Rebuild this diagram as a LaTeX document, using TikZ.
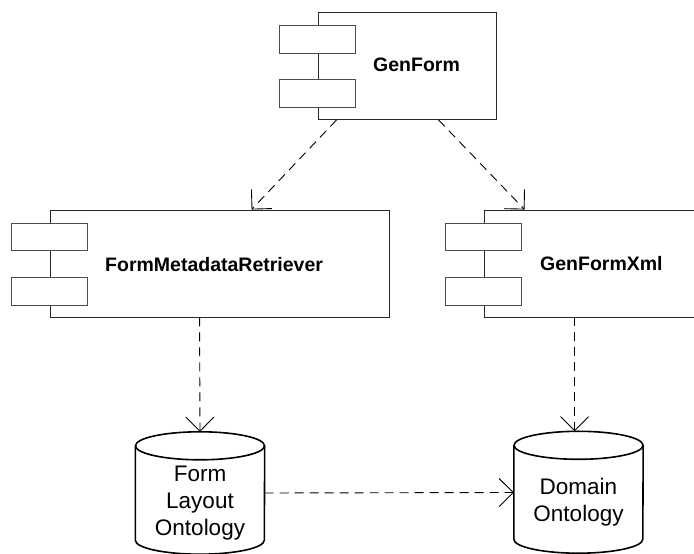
\documentclass[tikz,border=0pt]{standalone}
\usepackage{fontspec}
\setmainfont{Liberation Sans}
\usetikzlibrary{arrows.meta,calc}

\tikzset{
  body/.style={draw=black!85, line width=0.9pt, fill=white, inner sep=0pt,
               minimum width=#1, minimum height=107pt},
  port/.style={draw=black!70, line width=0.9pt, fill=white, inner sep=0pt,
               minimum width=76pt, minimum height=27.5pt},
  complbl/.style={font=\fontsize{19.5}{23}\selectfont\bfseries, inner sep=0pt},
  store/.style={inner sep=0pt, minimum width=129pt, minimum height=122pt},
  drum/.style={draw=black, line width=1.6pt},
  storelbl/.style={font=\fontsize{22.5}{27}\selectfont, align=center, inner sep=0pt},
  dep/.style={draw=black, line width=0.9pt, dash pattern=on 9pt off 6pt,
              -{Straight Barb[length=14pt,width=28pt]}}
}

\begin{document}
\begin{tikzpicture}[x=1pt,y=1pt]
\useasboundingbox (0,0) rectangle (694,554);
\clip (0,0) rectangle (694,554);

% GenForm component
\node[body=178pt] (genform) at (407,488) {};
\node[port] (genformp1) at (genform.west |- 0,514.5) {};
\node[port] (genformp2) at (genform.west |- 0,460.5) {};
\node[complbl, anchor=base west] (genformtxt) at (373,482) {GenForm};

% FormMetadataRetriever component
\node[body=339pt] (fmr) at (219.5,290.5) {};
\node[port] (fmrp1) at (fmr.west |- 0,317) {};
\node[port] (fmrp2) at (fmr.west |- 0,262.5) {};
\node[complbl, anchor=base west] (fmrtxt) at (105,282) {FormMetadataRetriever};

% GenFormXml component (runs past the right edge)
\node[body=226pt] (gfx) at (597,290.5) {};
\node[port] (gfxp1) at (gfx.west |- 0,317) {};
\node[port] (gfxp2) at (gfx.west |- 0,262.5) {};
\node[complbl, anchor=base west] (gfxtxt) at (540,283) {GenFormXml};

% Form Layout Ontology store
\node[store] (flo) at (200,61) {};
\draw[drum] ($(flo.north)+(0,-14)$) ellipse [x radius=64.5pt, y radius=14pt];
\draw[drum] ($(flo.north west)+(0,-14)$) -- ($(flo.south west)+(0,14)$)
  arc[start angle=180, end angle=360, x radius=64.5pt, y radius=14pt]
  -- ($(flo.north east)+(0,-14)$);
\node[storelbl, anchor=base] (flotxt) at (200,18) {Form\\Layout\\Ontology};

% Domain Ontology store
\node[store] (dom) at (578.5,61.5) {};
\draw[drum] ($(dom.north)+(0,-14)$) ellipse [x radius=64.5pt, y radius=14pt];
\draw[drum] ($(dom.north west)+(0,-14)$) -- ($(dom.south west)+(0,14.5)$)
  arc[start angle=180, end angle=360, x radius=64.5pt, y radius=14pt]
  -- ($(dom.north east)+(0,-14)$);
\node[storelbl, anchor=base] (domtxt) at (578.5,32) {Domain\\Ontology};

% dependencies
\draw[dep] ([xshift=19pt]genform.south west) -- ([xshift=202pt]fmr.north west);
\draw[dep] ([xshift=121pt]genform.south west) -- ([xshift=41pt]gfx.north west);
\draw[dep] ([xshift=150pt]fmr.south west) -- (flo.north);
\coordinate (gfxdrop) at ([xshift=91pt]gfx.south west);
\coordinate (domtop) at (gfxdrop |- dom.north);
\draw[dep] (gfxdrop) -- (domtop);
\draw[dep] (flo.east) -- (dom.west);
\end{tikzpicture}
\end{document}
